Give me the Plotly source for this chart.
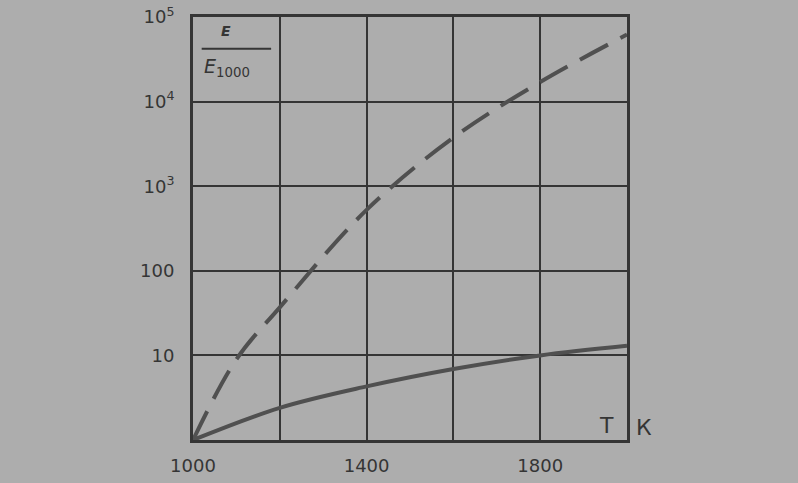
import plotly.graph_objects as go

# Data
T_dash = [1000, 1100, 1200, 1400, 1600, 1800, 2000]
E_dash = [1, 9, 37, 525, 3750, 17000, 62000]
T_solid = [1000, 1200, 1400, 1600, 1800, 2000]
E_solid = [1, 2.4, 4.3, 6.9, 10, 13]

x_tickvals = [1000, 1400, 1800]
x_ticktext = ["1000", "1400", "1800"]
y_tickvals = [10, 100, 1000, 10000, 100000]
y_ticktext = ["10", "100", "10<sup>3</sup>", "10<sup>4</sup>", "10<sup>5</sup>"]

bg = "#adadad"
ink = "#353535"
curve = "#505050"

fig = go.Figure()
fig.add_trace(go.Scatter(x=T_dash, y=E_dash, mode="lines",
                         line=dict(color=curve, width=4, dash="32px,14px", shape="spline"),
                         showlegend=False))
fig.add_trace(go.Scatter(x=T_solid, y=E_solid, mode="lines",
                         line=dict(color=curve, width=4, shape="spline"),
                         showlegend=False))

font = dict(family="DejaVu Sans", size=18, color=ink)

fig.update_layout(
    width=798, height=483,
    margin=dict(l=193, r=171, t=17, b=43),
    paper_bgcolor=bg, plot_bgcolor=bg,
    font=font,
    xaxis=dict(range=[1000, 2000], tickvals=x_tickvals, ticktext=x_ticktext,
               showgrid=True, gridcolor=ink, gridwidth=2, automargin=False,
               minor=dict(tick0=1000, dtick=200, showgrid=True, gridcolor=ink, gridwidth=2, ticks=""),
               showline=True, linecolor=ink, linewidth=3, mirror=True,
               ticks="", zeroline=False, ticklabelstandoff=7, tickfont=font),
    yaxis=dict(type="log", range=[0, 5], tickvals=y_tickvals, ticktext=y_ticktext,
               showgrid=True, gridcolor=ink, gridwidth=2, automargin=False,
               showline=True, linecolor=ink, linewidth=3, mirror=True,
               ticks="", zeroline=False, ticklabelstandoff=12, tickfont=font),
)

fig.add_annotation(xref="paper", yref="paper", x=0.06, y=0.99, xanchor="left", yanchor="top",
                   text="<b><i>E</i></b>", showarrow=False, font=dict(family="DejaVu Sans", size=14, color=ink))
fig.add_shape(type="line", xref="paper", yref="paper", x0=0.02, x1=0.18, y0=0.925, y1=0.925,
              line=dict(color=ink, width=2))
fig.add_annotation(xref="paper", yref="paper", x=0.02, y=0.915, xanchor="left", yanchor="top",
                   text="<i>E</i><sub>1000</sub>", showarrow=False,
                   font=dict(family="DejaVu Sans", size=19, color=ink))
fig.add_annotation(xref="paper", yref="paper", x=0.975, y=0.035, xanchor="right", yanchor="middle",
                   text="T", showarrow=False, font=dict(family="DejaVu Sans", size=22, color=ink))
fig.add_annotation(xref="paper", yref="paper", x=1.015, y=0.03, xanchor="left", yanchor="middle",
                   text="К", showarrow=False, font=dict(family="DejaVu Sans", size=22, color=ink))

fig.write_html("out.html", config={"displayModeBar": False},
               post_script="document.body.style.margin='0';document.body.style.overflow='hidden';")
